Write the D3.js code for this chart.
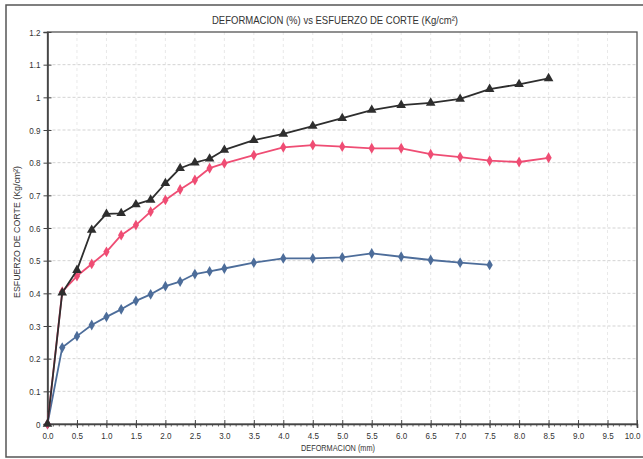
<!DOCTYPE html>
<html><head><meta charset="utf-8">
<script src="https://cdn.jsdelivr.net/npm/d3@7"></script>
<style>
html,body{margin:0;padding:0;background:#fff;}
text{font-family:"Liberation Sans Narrow","Arial Narrow","Liberation Sans",Arial,sans-serif;fill:#333;}
</style></head>
<body>
<script>
const xVals = [0,0.25,0.5,0.75,1,1.25,1.5,1.75,2,2.25,2.5,2.75,3,3.5,4,4.5,5,5.5,6,6.5,7,7.5,8,8.5];
const blackVals = [0,0.402,0.471,0.594,0.643,0.645,0.672,0.686,0.737,0.783,0.800,0.812,0.839,0.869,0.888,0.912,0.936,0.961,0.976,0.983,0.995,1.025,1.040,1.058];
const pinkVals = [0,0.405,0.453,0.490,0.527,0.578,0.609,0.650,0.686,0.718,0.747,0.783,0.798,0.823,0.847,0.854,0.849,0.844,0.844,0.826,0.817,0.806,0.802,0.815];
const blueVals = [0,0.234,0.269,0.303,0.328,0.351,0.377,0.397,0.422,0.436,0.459,0.467,0.476,0.494,0.507,0.507,0.510,0.522,0.512,0.502,0.494,0.487];
const xTicks = d3.range(0,10.01,0.5);
const yTicks = d3.range(0,1.201,0.1);
const titleText = "DEFORMACION (%) vs ESFUERZO DE CORTE (Kg/cm²)";
const xLabel = "DEFORMACION (mm)";
const yLabel = "ESFUERZO DE CORTE (Kg/cm²)";

const W=643,H=459;
const svg=d3.select("body").append("svg").attr("width",W).attr("height",H);
const L=47.5,R=637,T=32,B=424;
const x=d3.scaleLinear().domain([0,10]).range([L,R]);
const y=d3.scaleLinear().domain([0,1.2]).range([B,T]);

function condense(sel,f){
  sel.each(function(){
    const w=this.getComputedTextLength();
    d3.select(this).attr("textLength",w*f).attr("lengthAdjust","spacingAndGlyphs");
  });
}

// outer frame
svg.append("rect").attr("x",6).attr("y",5).attr("width",700).attr("height",452)
  .attr("fill","#fff").attr("stroke","#555").attr("stroke-width",1.5);

// grid
const g=svg.append("g");
g.selectAll(".hg").data(yTicks.filter(v=>v>0.05&&v<1.15)).join("line")
  .attr("x1",L).attr("x2",R).attr("y1",d=>y(d)).attr("y2",d=>y(d))
  .attr("stroke","#c8c8c8").attr("stroke-width",0.8).attr("stroke-dasharray","3,2");
g.selectAll(".vg").data(xTicks.filter(v=>v>0&&v<10)).join("line")
  .attr("y1",T).attr("y2",B).attr("x1",d=>x(d)).attr("x2",d=>x(d))
  .attr("stroke","#e2e2e2").attr("stroke-width",0.8).attr("stroke-dasharray","3,3");

// plot border
svg.append("rect").attr("x",L).attr("y",T).attr("width",R-L).attr("height",B-T)
  .attr("fill","none").attr("stroke","#555").attr("stroke-width",1.3);

const fam='"Liberation Sans Narrow","Arial Narrow","Liberation Sans",sans-serif';
// y axis
const ya=d3.axisLeft(y).tickValues(yTicks).tickSize(4).tickFormat(d=>{const s=d3.format(".1f")(d);return s==="1.0"?"1":(s==="0.0"?"0":s);});
const yg=svg.append("g").attr("transform",`translate(${L},0)`).call(ya);
yg.select(".domain").attr("stroke","#444").attr("stroke-width",1.6);
yg.selectAll(".tick line").attr("stroke","#444").attr("x1",4);
yg.selectAll(".tick text").attr("font-size",9.5).attr("fill","#444").attr("x",-7).style("font-family",fam);
condense(yg.selectAll(".tick text"),0.85);

// x axis
const xa=d3.axisBottom(x).tickValues(xTicks).tickSize(4).tickFormat(d3.format(".1f"));
const xg=svg.append("g").attr("transform",`translate(0,${B})`).call(xa);
xg.select(".domain").attr("stroke","#444").attr("stroke-width",1.6);
xg.selectAll(".tick line").attr("stroke","#444").attr("y1",-4);
xg.selectAll(".tick text").attr("font-size",9.5).attr("fill","#444").attr("y",8).style("font-family",fam);
condense(xg.selectAll(".tick text"),0.85);
xg.selectAll(".tick text").filter(d=>d===10).attr("text-anchor","end").attr("x",3);
// minor x ticks
svg.append("g").selectAll("line").data(d3.range(0,10.001,0.1)).join("line")
  .attr("x1",d=>x(d)).attr("x2",d=>x(d)).attr("y1",B).attr("y2",B+2.5)
  .attr("stroke","#444").attr("stroke-width",0.8);

// series
const series=[
  {vals:blueVals,color:"#4d6d9a",sym:d3.symbolDiamond,size:34},
  {vals:pinkVals,color:"#ef4d74",sym:d3.symbolDiamond,size:34},
  {vals:blackVals,color:"#2e2e2e",sym:d3.symbolTriangle,size:40}
];
const line=d3.line().x(d=>x(d[0])).y(d=>y(d[1]));
series.forEach(s=>{
  const pts=s.vals.map((v,i)=>[xVals[i],v]);
  svg.append("path").attr("d",line(pts)).attr("fill","none").attr("stroke",s.color)
    .attr("stroke-width",1.8).attr("stroke-linejoin","round");
  svg.append("g").selectAll("path").data(pts).join("path")
    .attr("d",d3.symbol().type(s.sym).size(s.size))
    .attr("transform",d=>`translate(${x(d[0])},${y(d[1])})`)
    .attr("fill",s.color);
});

// titles
svg.append("text").attr("x",335).attr("y",24).attr("text-anchor","middle")
  .attr("font-size",11.5).attr("fill","#222").attr("textLength",246).attr("lengthAdjust","spacingAndGlyphs").text(titleText);
svg.append("text").attr("x",338).attr("y",451).attr("text-anchor","middle")
  .attr("font-size",9.5).attr("fill","#333").attr("textLength",74).attr("lengthAdjust","spacingAndGlyphs").text(xLabel);
svg.append("text").attr("transform","translate(20,232) rotate(-90)").attr("text-anchor","middle")
  .attr("font-size",9.5).attr("fill","#333").attr("textLength",132).attr("lengthAdjust","spacingAndGlyphs").text(yLabel);
</script>
</body></html>
